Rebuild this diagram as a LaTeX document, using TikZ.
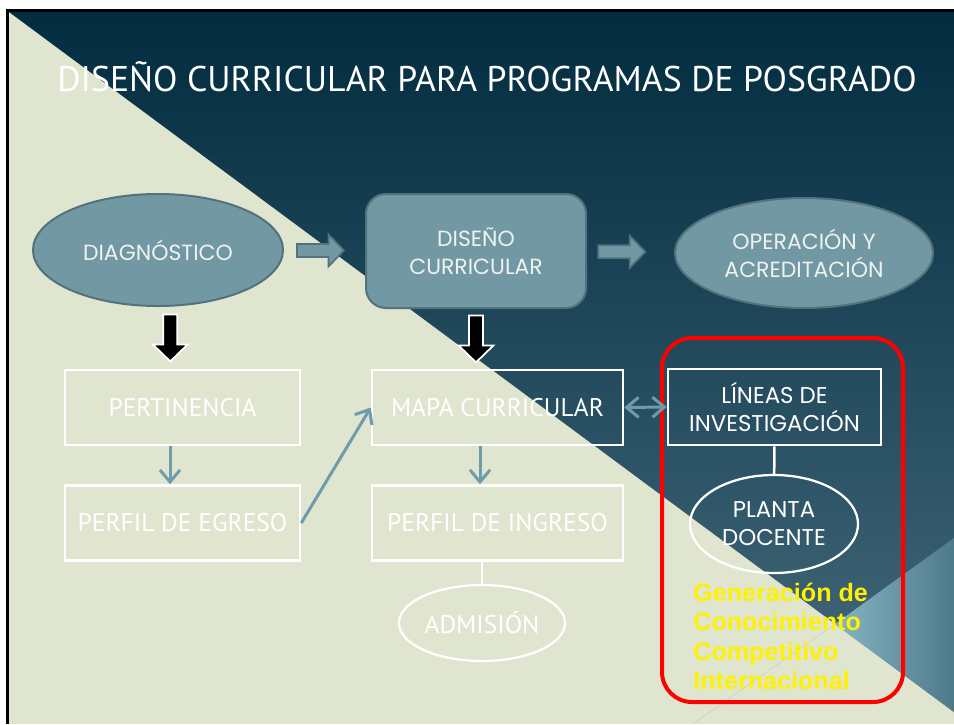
\documentclass[tikz,border=0pt]{standalone}
\usepackage{fontspec}
\setmainfont{PT Sans}
\newfontfamily\gothfont{Poppins}
\newfontfamily\arialfont{Liberation Sans}
\usepackage{tikz}
\usetikzlibrary{positioning, shapes.geometric, arrows.meta, calc}

\definecolor{navytop}{HTML}{022C3F}
\definecolor{navymid}{HTML}{0A374B}
\definecolor{navybot}{HTML}{44697B}
\definecolor{beige}{HTML}{DFE5CF}
\definecolor{tealfill}{HTML}{7298A3}
\definecolor{tealedge}{HTML}{52737D}
\definecolor{tealline}{HTML}{6D9CAB}
\definecolor{wedgeleft}{HTML}{86B5C5}
\definecolor{wedgeright}{HTML}{4E7988}
\definecolor{softwhite}{HTML}{EEF2F0}

\begin{document}
\begin{tikzpicture}[x=0.2mm, y=-0.2mm,
  oval node/.style={ellipse, draw=tealedge, fill=tealfill, line width=0.4mm, text=softwhite,
    font=\gothfont\fontsize{12.5}{16}\selectfont, align=center, inner sep=0pt},
  plain box/.style={rectangle, draw=white, line width=0.5mm, minimum width=47mm, minimum height=15mm,
    text=white, font=\fontsize{14.5}{17}\selectfont, align=center, inner sep=0pt},
  plain oval/.style={ellipse, draw=white, line width=0.45mm, text=white, align=center, inner sep=0pt},
  link/.style={draw=tealline, line width=0.6mm, -{Straight Barb[length=2.4mm, width=4mm]}},
  pics/flow arrow/.style={code={
    \draw[tealedge, fill=tealfill, line width=0.35mm] (-23.5,-6.5) -- (8,-6.5) -- (8,-16) -- (23.5,0)
      -- (8,16) -- (8,6.5) -- (-23.5,6.5) -- cycle;}},
  pics/down arrow/.style={code={
    \draw[white, fill=black, line width=0.35mm] (-7,-23.5) -- (7,-23.5) -- (7,6.5) -- (17.5,6.5)
      -- (0,23.5) -- (-17.5,6.5) -- (-7,6.5) -- cycle;}}]

\useasboundingbox (0,0) rectangle (954,724);

% background
\fill[white] (0,0) rectangle (954,724);
\fill[beige] (9,12) rectangle (954,724);
\shade[top color=navytop, middle color=navymid, bottom color=navybot] (9,12) -- (954,12) -- (954,712) -- cycle;
\shade[left color=wedgeleft, right color=wedgeright] (835,624) -- (954,538) -- (954,712) -- cycle;
\draw[beige!88!black, very thin] (835,624) -- (693,724);
\draw[black, line width=0.6mm] (7.5,724) -- (7.5,10.5) -- (954,10.5);

\node[text=white, font=\fontsize{20.3}{23}\selectfont] (titulo) at (487,77) {DISEÑO CURRICULAR PARA PROGRAMAS DE POSGRADO};

\node[oval node, minimum width=50mm, minimum height=22.4mm] (diag) at (158,250) {DIAGNÓSTICO};
\node[oval node, rectangle, rounded corners=4mm, minimum width=44mm, minimum height=22.8mm] (dis) at (476,251) {DISEÑO\\CURRICULAR};
\node[oval node, minimum width=51.6mm, minimum height=22mm] (oper) at (804,253) {OPERACIÓN Y\\ACREDITACIÓN};

\node[draw=red, line width=0.8mm, rounded corners=6mm, minimum width=48.2mm, minimum height=72.8mm] (grupo) at (782.5,520) {};

\node[plain box] (pert) at (182.5,407.5) {PERTINENCIA};
\node[plain box, below=7.6mm of pert] (egreso) {PERFIL DE EGRESO};
\node[plain box, minimum width=50.2mm] (mapa) at (497.5,407.5) {MAPA CURRICULAR};
\node[plain box, minimum width=50.2mm, below=7.6mm of mapa] (ingreso) {PERFIL DE INGRESO};
\node[plain oval, minimum width=33.2mm, minimum height=15.2mm, font=\fontsize{14.5}{17}\selectfont] (admision) at (482,623) {ADMISIÓN};

\node[plain box, minimum width=42.6mm, minimum height=15.2mm, font=\gothfont\fontsize{13}{16}\selectfont] (lineas) at (774.5,407) {LÍNEAS DE\\INVESTIGACIÓN};
\node[plain oval, minimum width=33.6mm, minimum height=19.6mm, font=\gothfont\fontsize{13}{16}\selectfont] (planta) at (774,524) {PLANTA\\DOCENTE};
\node[anchor=north west, inner sep=0pt, align=left, text=yellow, font=\arialfont\bfseries\fontsize{14.3}{16.6}\selectfont] (gen) at (693,583) {Generación de\\Conocimiento\\Competitivo\\Internacional};

\pic at ($(diag.east)!0.45!(dis.west)$) {flow arrow};
\pic at ($(dis.east)!0.4!(oper.west)$) {flow arrow};
\pic at ($(diag.south)!0.5!(pert.north)$) {down arrow};
\pic at ($(dis.south)!0.5!(dis.south |- mapa.north)$) {down arrow};

\draw[link] ([xshift=-2.5mm]pert.south) -- ([xshift=-2.5mm]egreso.north);
\draw[link] (egreso.east) -- (mapa.west);
\draw[link] ([xshift=-3.5mm]mapa.south) -- ([xshift=-3.5mm]ingreso.north);
\draw[link, {Straight Barb[length=2.4mm, width=4mm]}-{Straight Barb[length=2.4mm, width=4mm]}] (mapa.east) -- (lineas.west);
\draw[white, line width=0.45mm] (admision.north |- ingreso.south) -- (admision.north);
\draw[white, line width=0.5mm] (lineas) -- (planta);

\end{tikzpicture}
\end{document}
